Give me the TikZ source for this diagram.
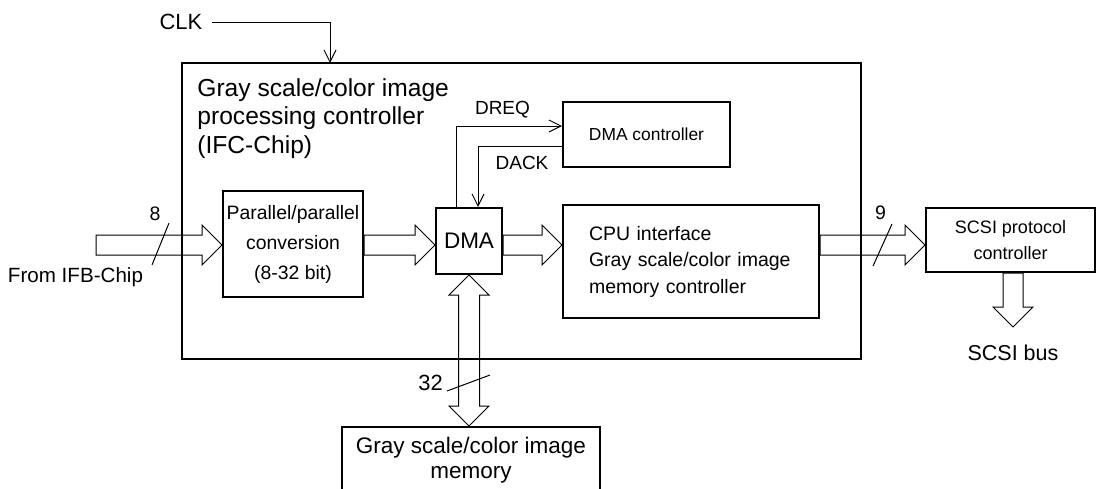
\documentclass[tikz,border=0pt]{standalone}
\usepackage{fontspec}
\setmainfont{Liberation Sans}
\usetikzlibrary{positioning,arrows.meta,calc}

% hollow bus arrows: tail point, tip point
\newcommand\hbus[2]{%
  \draw[bus] let \p1=#1, \p2=#2 in
    (\x1,\y2+5pt) -- (\x2-10pt,\y2+5pt) -- (\x2-10pt,\y2+10pt) -- (\x2,\y2)
    -- (\x2-10pt,\y2-10pt) -- (\x2-10pt,\y2-5pt) -- (\x1,\y2-5pt) -- cycle;}
\newcommand\vbus[2]{%
  \draw[bus] let \p1=#1, \p2=#2 in
    (\x2-5pt,\y1) -- (\x2-5pt,\y2+10pt) -- (\x2-10pt,\y2+10pt) -- (\x2,\y2)
    -- (\x2+10pt,\y2+10pt) -- (\x2+5pt,\y2+10pt) -- (\x2+5pt,\y1) -- cycle;}
\newcommand\vdbus[2]{%
  \draw[bus] let \p1=#1, \p2=#2 in
    (\x1,\y1) -- (\x1+10pt,\y1-10pt) -- (\x1+5.25pt,\y1-10pt) -- (\x1+5.25pt,\y2+10pt)
    -- (\x1+10pt,\y2+10pt) -- (\x1,\y2) -- (\x1-10pt,\y2+10pt) -- (\x1-5.25pt,\y2+10pt)
    -- (\x1-5.25pt,\y1-10pt) -- (\x1-10pt,\y1-10pt) -- cycle;}

\begin{document}
\begin{tikzpicture}[
  x=0.5pt, y=-0.5pt,
  box/.style={draw, line width=1pt, align=center, inner sep=0pt},
  sig/.style={-{Straight Barb[length=6pt,width=6pt]}, line width=0.5pt},
  bus/.style={line width=0.5pt, line join=miter},
  lbl/.style={inner sep=0pt, font=\fontsize{9.5}{11}\selectfont},
]
\clip (0,0) rectangle (1096,488);
% boxes
\node[box, minimum width=339.5pt, minimum height=148pt] (ifc) at (521.5,211) {};
\node[anchor=north west, inner sep=0pt, align=left, font=\fontsize{12.3}{14.25}\selectfont] (ttl) at (197,78)
  {Gray scale/color image\\processing controller\\(IFC-Chip)};
\node[box, minimum width=70pt, minimum height=53pt, font=\fontsize{9.7}{15}\selectfont] (pp) at (293,244)
  {Parallel/parallel\\conversion\\(8-32 bit)};
\node[box, minimum width=33pt, minimum height=33pt, font=\fontsize{11.25}{13}\selectfont] (dma) at (469,241) {DMA};
\node[box, minimum width=83.5pt, minimum height=32.5pt, font=\fontsize{8.7}{10}\selectfont] (dmac) at (646.5,134.5) {DMA controller};
\node[box, minimum width=128pt, minimum height=56.5pt, inner xsep=13pt, text width=102pt, align=left,
  font=\fontsize{9.75}{13.25}\selectfont] (cpu) at (691,261.5)
  {CPU interface\\Gray scale/color image\\memory controller};
\node[box, minimum width=84.5pt, minimum height=32pt, font=\fontsize{9}{13}\selectfont] (scsi) at (1010.5,240)
  {SCSI protocol\\controller};
\node[box, anchor=north, minimum width=129pt, inner ysep=5pt, text depth=15pt,
  font=\fontsize{11.25}{12.5}\selectfont] (mem) at (471,426)
  {Gray scale/color image\\memory};
% labels
\node[lbl, font=\fontsize{11}{13}\selectfont] (clk) at (181,22) {CLK};
\node[lbl] (dreq) at (502.5,110) {DREQ};
\node[lbl] (dack) at (522,163) {DACK};
\node[lbl, font=\fontsize{10.3}{12}\selectfont] (ifbl) at (75.5,277) {From IFB-Chip};
\node[lbl, font=\fontsize{9.75}{11}\selectfont] (n8) at (155,214) {8};
\node[lbl, font=\fontsize{9.75}{11}\selectfont] (n9) at (880.5,213) {9};
\node[lbl, font=\fontsize{11}{13}\selectfont] (n32) at (430.5,383) {32};
\coordinate (ax) at (0,245);
\coordinate (ifb) at (96,245);
\coordinate (clkin) at (330,63);
\coordinate (scsibus) at (1013,327);
\node[lbl, font=\fontsize{10.75}{12}\selectfont, below=9pt of scsibus] (busl) {SCSI bus};
% control lines
\draw[sig] ($(clk.east)+(9,0)$) -| (clkin);
\draw[sig] ($(dma.north)+(-13,0)$) |- ($(dmac.west)+(0,-8.5)$);
\draw[sig] ($(dmac.west)+(0,11.5)$) -| ($(dma.north)+(9,0)$);
% data buses
\hbus{(ifb)}{(pp.west |- ax)}
\hbus{(pp.east |- ax)}{(dma.west |- ax)}
\hbus{(dma.east |- ax)}{(cpu.west |- ax)}
\hbus{(cpu.east |- ax)}{(scsi.west |- ax)}
\vbus{(scsi.south)}{(scsibus)}
\vdbus{(dma.south)}{(dma.south |- mem.north)}
% bus widths
\draw[line width=0.5pt] (152,265) -- (169,223);
\draw[line width=0.5pt] (873,266) -- (892,224);
\draw[line width=0.5pt] (447,391) -- (490,375);
\end{tikzpicture}
\end{document}
